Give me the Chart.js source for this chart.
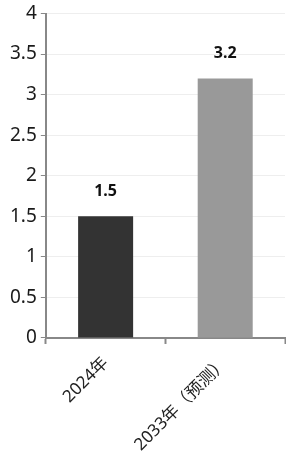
<!DOCTYPE html>
<html>
<head>
<meta charset="utf-8">
<script src="https://cdn.jsdelivr.net/npm/chart.js@4"></script>
<style>
  html, body { margin: 0; padding: 0; background: #fff; }
  #wrap { width: 286px; height: 464px; }
</style>
</head>
<body>
<div id="wrap"><canvas id="chart"></canvas></div>
<script>
// chart data
const categories = ['2024年', '2033年（预测）'];
const values = [1.5, 3.2];
const barColors = ['#333333', '#999999'];
const yTicks = [0, 0.5, 1, 1.5, 2, 2.5, 3, 3.5, 4];

const FONT = '"Noto Sans", "Noto Sans CJK SC", sans-serif';

// draw value labels above bars
const valueLabels = {
  id: 'valueLabels',
  afterDatasetsDraw(chart) {
    const ctx = chart.ctx;
    const meta = chart.getDatasetMeta(0);
    ctx.save();
    ctx.font = 'bold 16px ' + FONT;
    ctx.fillStyle = '#111';
    ctx.textAlign = 'center';
    ctx.textBaseline = 'middle';
    meta.data.forEach((bar, i) => {
      ctx.fillText(String(values[i]), bar.x, bar.y - 25);
    });
    ctx.restore();
  }
};

new Chart(document.getElementById('chart'), {
  type: 'bar',
  data: {
    labels: categories,
    datasets: [{
      data: values,
      backgroundColor: barColors,
      barPercentage: 0.46,
      categoryPercentage: 1
    }]
  },
  options: {
    responsive: true,
    maintainAspectRatio: false,
    animation: false,
    layout: { padding: { top: 0, right: 1, left: 6, bottom: 0 } },
    plugins: {
      legend: { display: false },
      tooltip: { enabled: false }
    },
    scales: {
      x: {
        grid: {
          display: true,
          drawOnChartArea: false,
          drawTicks: true,
          tickLength: 6,
          tickColor: '#888',
          tickWidth: 2
        },
        border: { color: '#888', width: 2 },
        ticks: {
          color: '#222',
          font: { size: 17, family: FONT },
          minRotation: 45,
          maxRotation: 45,
          padding: 9
        }
      },
      y: {
        min: 0,
        max: 4,
        afterBuildTicks(axis) {
          axis.ticks = yTicks.map(v => ({ value: v }));
        },
        grid: {
          color: '#eeeeee',
          tickColor: '#888',
          tickLength: 5,
          tickWidth: 1
        },
        border: { color: '#888', width: 2 },
        ticks: {
          color: '#1a1a1a',
          font: { size: 19, family: FONT, lineHeight: 1.0 },
          padding: 4,
          callback: v => String(v)
        }
      }
    }
  },
  plugins: [valueLabels]
});
</script>
</body>
</html>
